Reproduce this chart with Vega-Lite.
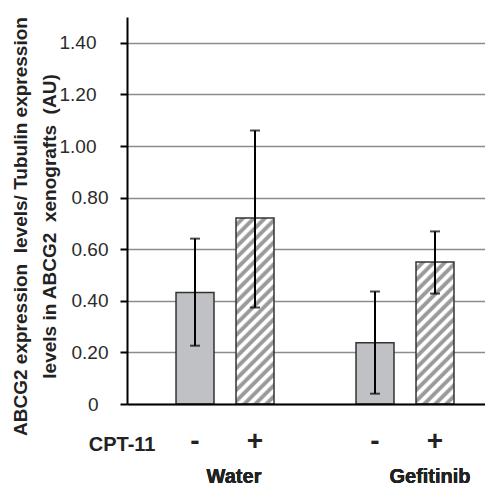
{
  "$schema": "https://vega.github.io/schema/vega-lite/v6.json",
  "width": 358,
  "height": 387,
  "autosize": {"type": "none"},
  "padding": {"left": 127, "top": 17, "right": 0, "bottom": 82},
  "background": "#ffffff",
  "config": {"view": {"stroke": null}, "font": "Liberation Sans"},
  "data": {
    "values": [
      {"group": "Water", "cpt": "-", "bar": "Water -", "mean": 0.432, "lo": 0.226, "hi": 0.641},
      {"group": "Water", "cpt": "+", "bar": "Water +", "mean": 0.721, "lo": 0.374, "hi": 1.06},
      {"group": "Gefitinib", "cpt": "-", "bar": "Gefitinib -", "mean": 0.237, "lo": 0.04, "hi": 0.436},
      {"group": "Gefitinib", "cpt": "+", "bar": "Gefitinib +", "mean": 0.55, "lo": 0.428, "hi": 0.669}
    ]
  },
  "encoding": {
    "x": {
      "field": "bar",
      "type": "nominal",
      "sort": null,
      "scale": {"domain": ["Water -", "Water +", "gap", "Gefitinib -", "Gefitinib +"], "paddingInner": 0.367, "paddingOuter": 0.667, "align": 0.6125},
      "axis": {
        "title": "CPT-11",
        "titleFont": "Liberation Sans",
        "titleFontSize": 20,
        "titleFontWeight": "bold",
        "titleColor": "#222222",
        "titleX": 28,
        "titleY": 40.5,
        "titleAlign": "right",
        "titleBaseline": "middle",
        "titleAnchor": "start",
        "labelExpr": "datum.value == 'gap' ? '' : slice(datum.value, -1)",
        "labelFont": "Liberation Sans",
        "labelFontSize": 28,
        "labelFontWeight": "bold",
        "labelColor": "#222222",
        "labelAngle": 0,
        "labelBaseline": "middle",
        "labelPadding": 37,
        "ticks": false,
        "domainColor": "#000000",
        "domainWidth": 2,
        "grid": false,
        "zindex": 1
      }
    },
    "y": {
      "field": "mean",
      "type": "quantitative",
      "scale": {"domain": [0, 1.5], "nice": false, "zero": true},
      "axis": {
        "values": [0, 0.2, 0.4, 0.6, 0.8, 1.0, 1.2, 1.4],
        "labelExpr": "datum.value == 0 ? '0' : format(datum.value, '.2f')",
        "grid": true,
        "gridColor": "#8c8c8c",
        "gridWidth": 1.5,
        "domainColor": "#000000",
        "domainWidth": 2,
        "tickColor": "#000000",
        "tickWidth": 2,
        "tickSize": 7,
        "labelFont": "Liberation Sans",
        "labelFontSize": 19,
        "labelColor": "#2b2b2b",
        "labelAlign": "right",
        "labelPadding": {"condition": [{"test": "datum.value >= 1", "value": 24}, {"test": "datum.value == 0", "value": 22}], "value": 12},
        "title": ["ABCG2 expression\u00a0 levels/ Tubulin expression", "levels in ABCG2\u00a0 xenografts\u00a0 (AU)"],
        "titleFont": "Liberation Sans",
        "titleFontSize": 19,
        "titleFontWeight": "bold",
        "titleColor": "#222222",
        "titleAngle": -90,
        "titleX": -116,
        "titleY": 209,
        "titleAlign": "center",
        "titleBaseline": "top",
        "titleLineHeight": 29
      }
    }
  },
  "layer": [
    {
      "mark": {"type": "bar", "stroke": "#333333", "strokeWidth": 1.5},
      "encoding": {
        "fill": {
          "condition": [
            {"test": "datum.bar == 'Water +'", "value": {"gradient": "linear", "x1": 0, "y1": 0, "x2": 0.244, "y2": 1.193, "stops": [
              {"offset": 0, "color": "#ffffff"}, {"offset": 0.0143, "color": "#ffffff"}, {"offset": 0.0238, "color": "#9a9a9a"}, {"offset": 0.0381, "color": "#9a9a9a"},
              {"offset": 0.0476, "color": "#ffffff"}, {"offset": 0.0619, "color": "#ffffff"}, {"offset": 0.0714, "color": "#9a9a9a"}, {"offset": 0.0857, "color": "#9a9a9a"},
              {"offset": 0.0952, "color": "#ffffff"}, {"offset": 0.1095, "color": "#ffffff"}, {"offset": 0.119, "color": "#9a9a9a"}, {"offset": 0.1333, "color": "#9a9a9a"},
              {"offset": 0.1429, "color": "#ffffff"}, {"offset": 0.1571, "color": "#ffffff"}, {"offset": 0.1667, "color": "#9a9a9a"}, {"offset": 0.181, "color": "#9a9a9a"},
              {"offset": 0.1905, "color": "#ffffff"}, {"offset": 0.2048, "color": "#ffffff"}, {"offset": 0.2143, "color": "#9a9a9a"}, {"offset": 0.2286, "color": "#9a9a9a"},
              {"offset": 0.2381, "color": "#ffffff"}, {"offset": 0.2524, "color": "#ffffff"}, {"offset": 0.2619, "color": "#9a9a9a"}, {"offset": 0.2762, "color": "#9a9a9a"},
              {"offset": 0.2857, "color": "#ffffff"}, {"offset": 0.3, "color": "#ffffff"}, {"offset": 0.3095, "color": "#9a9a9a"}, {"offset": 0.3238, "color": "#9a9a9a"},
              {"offset": 0.3333, "color": "#ffffff"}, {"offset": 0.3476, "color": "#ffffff"}, {"offset": 0.3571, "color": "#9a9a9a"}, {"offset": 0.3714, "color": "#9a9a9a"},
              {"offset": 0.381, "color": "#ffffff"}, {"offset": 0.3952, "color": "#ffffff"}, {"offset": 0.4048, "color": "#9a9a9a"}, {"offset": 0.419, "color": "#9a9a9a"},
              {"offset": 0.4286, "color": "#ffffff"}, {"offset": 0.4429, "color": "#ffffff"}, {"offset": 0.4524, "color": "#9a9a9a"}, {"offset": 0.4667, "color": "#9a9a9a"},
              {"offset": 0.4762, "color": "#ffffff"}, {"offset": 0.4905, "color": "#ffffff"}, {"offset": 0.5, "color": "#9a9a9a"}, {"offset": 0.5143, "color": "#9a9a9a"},
              {"offset": 0.5238, "color": "#ffffff"}, {"offset": 0.5381, "color": "#ffffff"}, {"offset": 0.5476, "color": "#9a9a9a"}, {"offset": 0.5619, "color": "#9a9a9a"},
              {"offset": 0.5714, "color": "#ffffff"}, {"offset": 0.5857, "color": "#ffffff"}, {"offset": 0.5952, "color": "#9a9a9a"}, {"offset": 0.6095, "color": "#9a9a9a"},
              {"offset": 0.619, "color": "#ffffff"}, {"offset": 0.6333, "color": "#ffffff"}, {"offset": 0.6429, "color": "#9a9a9a"}, {"offset": 0.6571, "color": "#9a9a9a"},
              {"offset": 0.6667, "color": "#ffffff"}, {"offset": 0.681, "color": "#ffffff"}, {"offset": 0.6905, "color": "#9a9a9a"}, {"offset": 0.7048, "color": "#9a9a9a"},
              {"offset": 0.7143, "color": "#ffffff"}, {"offset": 0.7286, "color": "#ffffff"}, {"offset": 0.7381, "color": "#9a9a9a"}, {"offset": 0.7524, "color": "#9a9a9a"},
              {"offset": 0.7619, "color": "#ffffff"}, {"offset": 0.7762, "color": "#ffffff"}, {"offset": 0.7857, "color": "#9a9a9a"}, {"offset": 0.8, "color": "#9a9a9a"},
              {"offset": 0.8095, "color": "#ffffff"}, {"offset": 0.8238, "color": "#ffffff"}, {"offset": 0.8333, "color": "#9a9a9a"}, {"offset": 0.8476, "color": "#9a9a9a"},
              {"offset": 0.8571, "color": "#ffffff"}, {"offset": 0.8714, "color": "#ffffff"}, {"offset": 0.881, "color": "#9a9a9a"}, {"offset": 0.8952, "color": "#9a9a9a"},
              {"offset": 0.9048, "color": "#ffffff"}, {"offset": 0.919, "color": "#ffffff"}, {"offset": 0.9286, "color": "#9a9a9a"}, {"offset": 0.9429, "color": "#9a9a9a"},
              {"offset": 0.9524, "color": "#ffffff"}, {"offset": 0.9667, "color": "#ffffff"}, {"offset": 0.9762, "color": "#9a9a9a"}, {"offset": 0.9905, "color": "#9a9a9a"},
              {"offset": 1, "color": "#ffffff"}
            ]}},
            {"test": "datum.bar == 'Gefitinib +'", "value": {"gradient": "linear", "x1": 0, "y1": 0, "x2": 0.4068, "y2": 1.519, "stops": [
              {"offset": 0, "color": "#ffffff"}, {"offset": 0.0143, "color": "#ffffff"}, {"offset": 0.0238, "color": "#9a9a9a"}, {"offset": 0.0381, "color": "#9a9a9a"},
              {"offset": 0.0476, "color": "#ffffff"}, {"offset": 0.0619, "color": "#ffffff"}, {"offset": 0.0714, "color": "#9a9a9a"}, {"offset": 0.0857, "color": "#9a9a9a"},
              {"offset": 0.0952, "color": "#ffffff"}, {"offset": 0.1095, "color": "#ffffff"}, {"offset": 0.119, "color": "#9a9a9a"}, {"offset": 0.1333, "color": "#9a9a9a"},
              {"offset": 0.1429, "color": "#ffffff"}, {"offset": 0.1571, "color": "#ffffff"}, {"offset": 0.1667, "color": "#9a9a9a"}, {"offset": 0.181, "color": "#9a9a9a"},
              {"offset": 0.1905, "color": "#ffffff"}, {"offset": 0.2048, "color": "#ffffff"}, {"offset": 0.2143, "color": "#9a9a9a"}, {"offset": 0.2286, "color": "#9a9a9a"},
              {"offset": 0.2381, "color": "#ffffff"}, {"offset": 0.2524, "color": "#ffffff"}, {"offset": 0.2619, "color": "#9a9a9a"}, {"offset": 0.2762, "color": "#9a9a9a"},
              {"offset": 0.2857, "color": "#ffffff"}, {"offset": 0.3, "color": "#ffffff"}, {"offset": 0.3095, "color": "#9a9a9a"}, {"offset": 0.3238, "color": "#9a9a9a"},
              {"offset": 0.3333, "color": "#ffffff"}, {"offset": 0.3476, "color": "#ffffff"}, {"offset": 0.3571, "color": "#9a9a9a"}, {"offset": 0.3714, "color": "#9a9a9a"},
              {"offset": 0.381, "color": "#ffffff"}, {"offset": 0.3952, "color": "#ffffff"}, {"offset": 0.4048, "color": "#9a9a9a"}, {"offset": 0.419, "color": "#9a9a9a"},
              {"offset": 0.4286, "color": "#ffffff"}, {"offset": 0.4429, "color": "#ffffff"}, {"offset": 0.4524, "color": "#9a9a9a"}, {"offset": 0.4667, "color": "#9a9a9a"},
              {"offset": 0.4762, "color": "#ffffff"}, {"offset": 0.4905, "color": "#ffffff"}, {"offset": 0.5, "color": "#9a9a9a"}, {"offset": 0.5143, "color": "#9a9a9a"},
              {"offset": 0.5238, "color": "#ffffff"}, {"offset": 0.5381, "color": "#ffffff"}, {"offset": 0.5476, "color": "#9a9a9a"}, {"offset": 0.5619, "color": "#9a9a9a"},
              {"offset": 0.5714, "color": "#ffffff"}, {"offset": 0.5857, "color": "#ffffff"}, {"offset": 0.5952, "color": "#9a9a9a"}, {"offset": 0.6095, "color": "#9a9a9a"},
              {"offset": 0.619, "color": "#ffffff"}, {"offset": 0.6333, "color": "#ffffff"}, {"offset": 0.6429, "color": "#9a9a9a"}, {"offset": 0.6571, "color": "#9a9a9a"},
              {"offset": 0.6667, "color": "#ffffff"}, {"offset": 0.681, "color": "#ffffff"}, {"offset": 0.6905, "color": "#9a9a9a"}, {"offset": 0.7048, "color": "#9a9a9a"},
              {"offset": 0.7143, "color": "#ffffff"}, {"offset": 0.7286, "color": "#ffffff"}, {"offset": 0.7381, "color": "#9a9a9a"}, {"offset": 0.7524, "color": "#9a9a9a"},
              {"offset": 0.7619, "color": "#ffffff"}, {"offset": 0.7762, "color": "#ffffff"}, {"offset": 0.7857, "color": "#9a9a9a"}, {"offset": 0.8, "color": "#9a9a9a"},
              {"offset": 0.8095, "color": "#ffffff"}, {"offset": 0.8238, "color": "#ffffff"}, {"offset": 0.8333, "color": "#9a9a9a"}, {"offset": 0.8476, "color": "#9a9a9a"},
              {"offset": 0.8571, "color": "#ffffff"}, {"offset": 0.8714, "color": "#ffffff"}, {"offset": 0.881, "color": "#9a9a9a"}, {"offset": 0.8952, "color": "#9a9a9a"},
              {"offset": 0.9048, "color": "#ffffff"}, {"offset": 0.919, "color": "#ffffff"}, {"offset": 0.9286, "color": "#9a9a9a"}, {"offset": 0.9429, "color": "#9a9a9a"},
              {"offset": 0.9524, "color": "#ffffff"}, {"offset": 0.9667, "color": "#ffffff"}, {"offset": 0.9762, "color": "#9a9a9a"}, {"offset": 0.9905, "color": "#9a9a9a"},
              {"offset": 1, "color": "#ffffff"}
            ]}}
          ],
          "value": "#c0c1c5"
        }
      }
    },
    {
      "mark": {"type": "rule", "color": "#000000", "strokeWidth": 2},
      "encoding": {
        "y": {"field": "lo", "type": "quantitative"},
        "y2": {"field": "hi"}
      }
    },
    {
      "mark": {"type": "tick", "color": "#000000", "thickness": 2, "size": 10, "orient": "horizontal"},
      "encoding": {
        "y": {"field": "lo", "type": "quantitative"}
      }
    },
    {
      "mark": {"type": "tick", "color": "#000000", "thickness": 2, "size": 10, "orient": "horizontal"},
      "encoding": {
        "y": {"field": "hi", "type": "quantitative"}
      }
    },
    {
      "mark": {"type": "text", "font": "Liberation Sans", "fontSize": 20, "fontWeight": "bold", "color": "#222222", "baseline": "middle", "align": "center", "dx": 39, "dy": 73},
      "encoding": {
        "x": {"datum": "Water -"},
        "y": {"datum": 0},
        "text": {"value": "Water"}
      }
    },
    {
      "mark": {"type": "text", "font": "Liberation Sans", "fontSize": 20, "fontWeight": "bold", "color": "#222222", "baseline": "middle", "align": "center", "dx": -5, "dy": 73},
      "encoding": {
        "x": {"datum": "Gefitinib +"},
        "y": {"datum": 0},
        "text": {"value": "Gefitinib"}
      }
    }
  ]
}
